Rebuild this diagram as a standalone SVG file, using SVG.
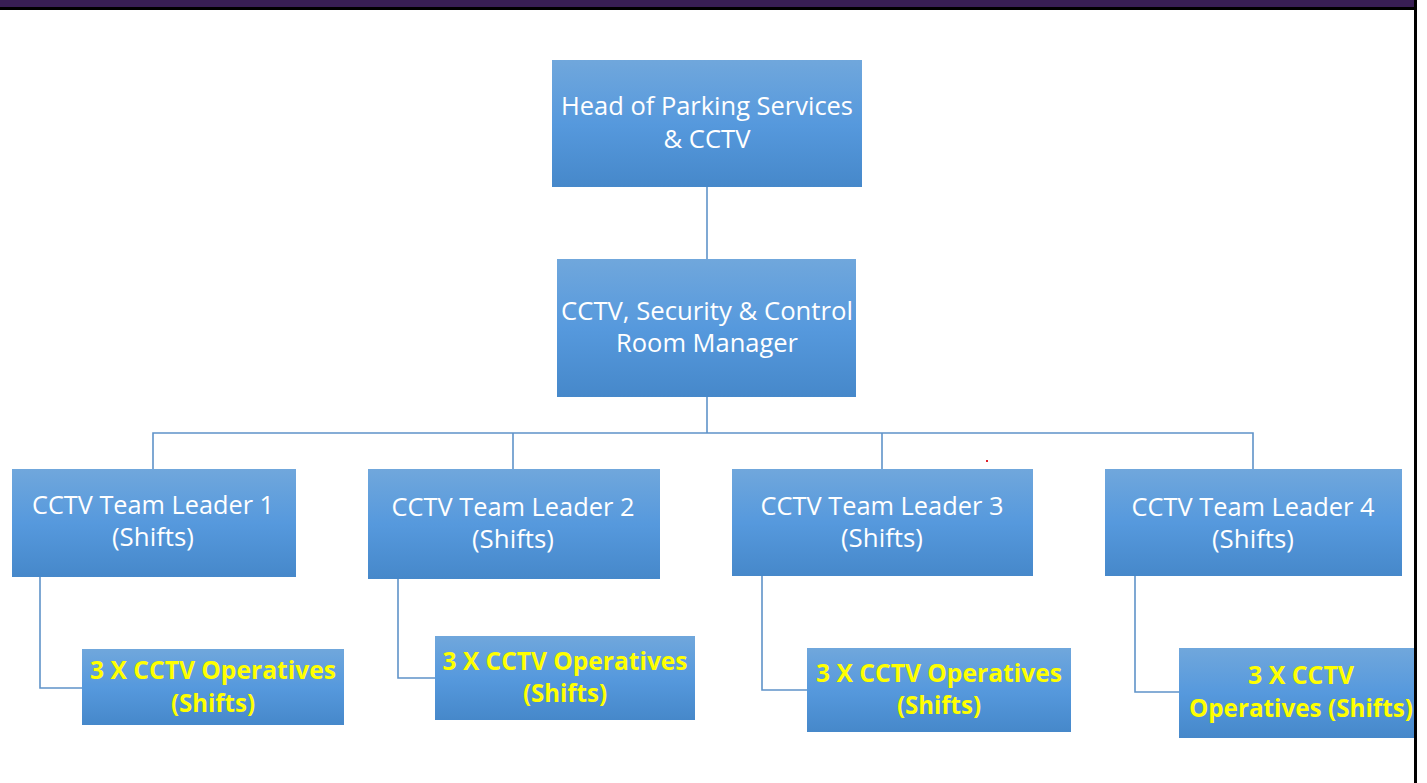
<svg xmlns="http://www.w3.org/2000/svg" width="1427" height="783" viewBox="0 0 1427 783">
<defs>
<linearGradient id="g" x1="0" y1="0" x2="0" y2="1">
<stop offset="0" stop-color="#70a7dc"/>
<stop offset="0.5" stop-color="#5699dd"/>
<stop offset="1" stop-color="#4688ca"/>
</linearGradient>
<style>
.box{fill:url(#g);}
.t{font-family:"Open Sans","Noto Sans","Liberation Sans",sans-serif;font-size:25px;fill:#ffffff;text-anchor:middle;}
.op{font-family:"Open Sans","Noto Sans","Liberation Sans",sans-serif;font-size:25px;font-weight:bold;fill:#ffff00;text-anchor:middle;}
.c{fill:none;stroke:#5f93c9;stroke-width:1.6;}
</style>
</defs>
<rect x="0" y="0" width="1427" height="783" fill="#ffffff"/>
<g id="connectors">
<path class="c" d="M707 187V259"/>
<path class="c" d="M707 397V433"/>
<path class="c" d="M153 469V433H1253V469"/>
<path class="c" d="M513 433V469"/>
<path class="c" d="M882 433V469"/>
<path class="c" d="M40 577V688H82"/>
<path class="c" d="M398 579V678H435"/>
<path class="c" d="M762 576V690H807"/>
<path class="c" d="M1135 576V692H1179"/>
</g>
<g id="head">
<rect class="box" x="552" y="60" width="310" height="127"/>
<text class="t" x="707" y="115" textLength="292" lengthAdjust="spacingAndGlyphs">Head of Parking Services</text>
<text class="t" x="707" y="148" textLength="87" lengthAdjust="spacingAndGlyphs">&amp; CCTV</text>
</g>
<g id="manager">
<rect class="box" x="557" y="259" width="299" height="138"/>
<text class="t" x="707" y="320" textLength="292" lengthAdjust="spacingAndGlyphs">CCTV, Security &amp; Control</text>
<text class="t" x="707" y="352" textLength="182" lengthAdjust="spacingAndGlyphs">Room Manager</text>
</g>
<g id="tl1">
<rect class="box" x="12" y="469" width="284" height="108"/>
<text class="t" x="153" y="514" textLength="242" lengthAdjust="spacingAndGlyphs">CCTV Team Leader 1</text>
<text class="t" x="153" y="546" textLength="82" lengthAdjust="spacingAndGlyphs">(Shifts)</text>
</g>
<g id="tl2">
<rect class="box" x="368" y="469" width="292" height="110"/>
<text class="t" x="513" y="516" textLength="243" lengthAdjust="spacingAndGlyphs">CCTV Team Leader 2</text>
<text class="t" x="513" y="548" textLength="82" lengthAdjust="spacingAndGlyphs">(Shifts)</text>
</g>
<g id="tl3">
<rect class="box" x="732" y="469" width="301" height="107"/>
<text class="t" x="882" y="515" textLength="243" lengthAdjust="spacingAndGlyphs">CCTV Team Leader 3</text>
<text class="t" x="882" y="547" textLength="82" lengthAdjust="spacingAndGlyphs">(Shifts)</text>
</g>
<g id="tl4">
<rect class="box" x="1105" y="469" width="297" height="107"/>
<text class="t" x="1253" y="516" textLength="243" lengthAdjust="spacingAndGlyphs">CCTV Team Leader 4</text>
<text class="t" x="1253" y="548" textLength="82" lengthAdjust="spacingAndGlyphs">(Shifts)</text>
</g>
<g id="op1">
<rect class="box" x="82" y="649" width="262" height="76"/>
<text class="op" x="213" y="679" textLength="246" lengthAdjust="spacingAndGlyphs">3 X CCTV Operatives</text>
<text class="op" x="213" y="712" textLength="84" lengthAdjust="spacingAndGlyphs">(Shifts)</text>
</g>
<g id="op2">
<rect class="box" x="435" y="636" width="260" height="84"/>
<text class="op" x="565" y="670" textLength="245" lengthAdjust="spacingAndGlyphs">3 X CCTV Operatives</text>
<text class="op" x="565" y="702" textLength="84" lengthAdjust="spacingAndGlyphs">(Shifts)</text>
</g>
<g id="op3">
<rect class="box" x="807" y="648" width="264" height="84"/>
<text class="op" x="939" y="682" textLength="246" lengthAdjust="spacingAndGlyphs">3 X CCTV Operatives</text>
<text class="op" x="939" y="714" textLength="84" lengthAdjust="spacingAndGlyphs">(Shifts)</text>
</g>
<g id="op4">
<rect class="box" x="1179" y="648" width="238" height="90"/>
<text class="op" x="1301" y="684" textLength="106" lengthAdjust="spacingAndGlyphs">3 X CCTV</text>
<text class="op" x="1301" y="717" textLength="224" lengthAdjust="spacingAndGlyphs">Operatives (Shifts)</text>
</g>
<rect x="986" y="460" width="2" height="2" fill="#e0202a"/>
<rect x="0" y="0" width="1414" height="7" fill="#381e54"/>
<rect x="0" y="7" width="1417" height="3" fill="#000000"/>
<rect x="1414" y="0" width="3" height="783" fill="#000000"/>
</svg>
